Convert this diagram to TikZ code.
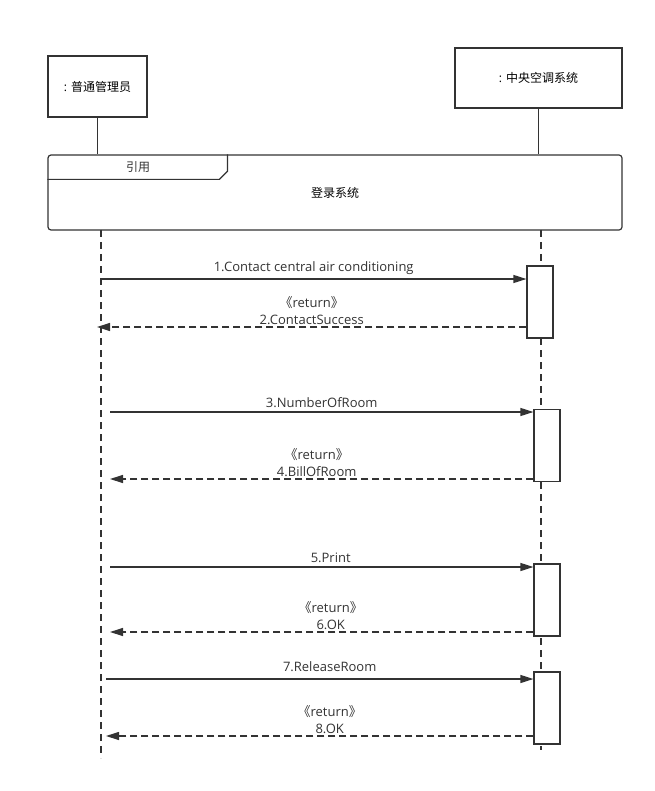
\documentclass[tikz,border=0pt]{standalone}
\usepackage{fontspec}
\setmainfont{Open Sans}
\newfontfamily\cjk{Noto Sans CJK SC}
\usepackage{tikz}
\usetikzlibrary{arrows.meta, positioning, calc}

\tikzset{
    box/.style={draw=black!80, line width=1.2pt, fill=white},
    act/.style={box, minimum width=26pt, minimum height=72pt, inner sep=0pt},
    life/.style={draw=black!80, line width=1.2pt, dash pattern=on 7pt off 5pt},
    call/.style={draw=black!80, line width=1.2pt, -{Triangle[length=13pt,width=8pt]}},
    back/.style={call, dash pattern=on 7pt off 4pt},
    lbl/.style={font=\fontsize{13}{17}\selectfont, align=center, text=black!80, inner sep=1pt}
}

\begin{document}
\begin{tikzpicture}[x=1pt, y=-1pt, font=\fontsize{12}{17}\selectfont]
    \useasboundingbox (0,0) rectangle (654,791);

    % 对象
    \node[box, minimum width=99pt, minimum height=61pt] (admin) at (97.5,86.5) {:\kern4pt{\cjk 普通管理员}};
    \node[box, minimum width=167pt, minimum height=60pt] (sys) at (538.5,78) {:\kern4pt{\cjk 中央空调系统}};

    % 引用框
    \node[box, rounded corners=3pt, minimum width=574pt, minimum height=75pt] (ref) at (335,192.5) {\cjk 登录系统};
    \draw[draw=black!80, line width=1.2pt] (ref.north west) ++(0,25) -- ++(172,0) -- ++(8,-8) -- ++(0,-17);
    \node[font=\fontsize{12}{17}\selectfont, text=black!80] (tab) at (138,167) {\cjk 引用};

    % 生命线
    \draw[draw=black!80, line width=1.2pt] (admin.south) -- (admin.south |- ref.north);
    \draw[draw=black!80, line width=1.2pt] (sys.south) -- (sys.south |- ref.north);
    \coordinate (lt) at (101,230);
    \coordinate (lb) at (101,758);
    \coordinate (rt) at (541,230);
    \coordinate (rb) at (541,750);
    \draw[life] (lt) -- (lb);
    \draw[life] (rt) -- (rb);

    % 激活框
    \node[act] (act1) at (540,302) {};
    \node[act] (act2) at (547,445.5) {};
    \node[act] (act3) at (547,600) {};
    \node[act] (act4) at (547,708) {};

    % 消息 1, 2
    \coordinate (s1) at (101,279);
    \coordinate (e2) at (97,327);
    \draw[call] (s1) -- (act1.west |- s1) node[lbl, midway, above=3pt] {1.Contact central air conditioning};
    \draw[back] (act1.west |- e2) -- (e2) node[lbl, midway, above=1pt] {{\cjk 《}return{\cjk 》}\\2.ContactSuccess};

    % 消息 3, 4
    \coordinate (s3) at (110,412);
    \coordinate (e4) at (110,479);
    \draw[call] (s3) -- (act2.west |- s3) node[lbl, midway, above=3pt] {3.NumberOfRoom};
    \draw[back] (act2.west |- e4) -- (e4) node[lbl, midway, above=1pt, xshift=-5pt] {{\cjk 《}return{\cjk 》}\\4.BillOfRoom};

    % 消息 5, 6
    \coordinate (s5) at (110,567);
    \coordinate (e6) at (110,632);
    \draw[call] (s5) -- (act3.west |- s5) node[lbl, midway, above=3pt, xshift=9pt] {5.Print};
    \draw[back] (act3.west |- e6) -- (e6) node[lbl, midway, above=1pt, xshift=9pt] {{\cjk 《}return{\cjk 》}\\6.OK};

    % 消息 7, 8
    \coordinate (s7) at (106,679);
    \coordinate (e8) at (106,736);
    \draw[call] (s7) -- (act4.west |- s7) node[lbl, midway, above=6pt, xshift=10pt] {7.ReleaseRoom};
    \draw[back] (act4.west |- e8) -- (e8) node[lbl, midway, above=1pt, xshift=10pt] {{\cjk 《}return{\cjk 》}\\8.OK};
\end{tikzpicture}
\end{document}
